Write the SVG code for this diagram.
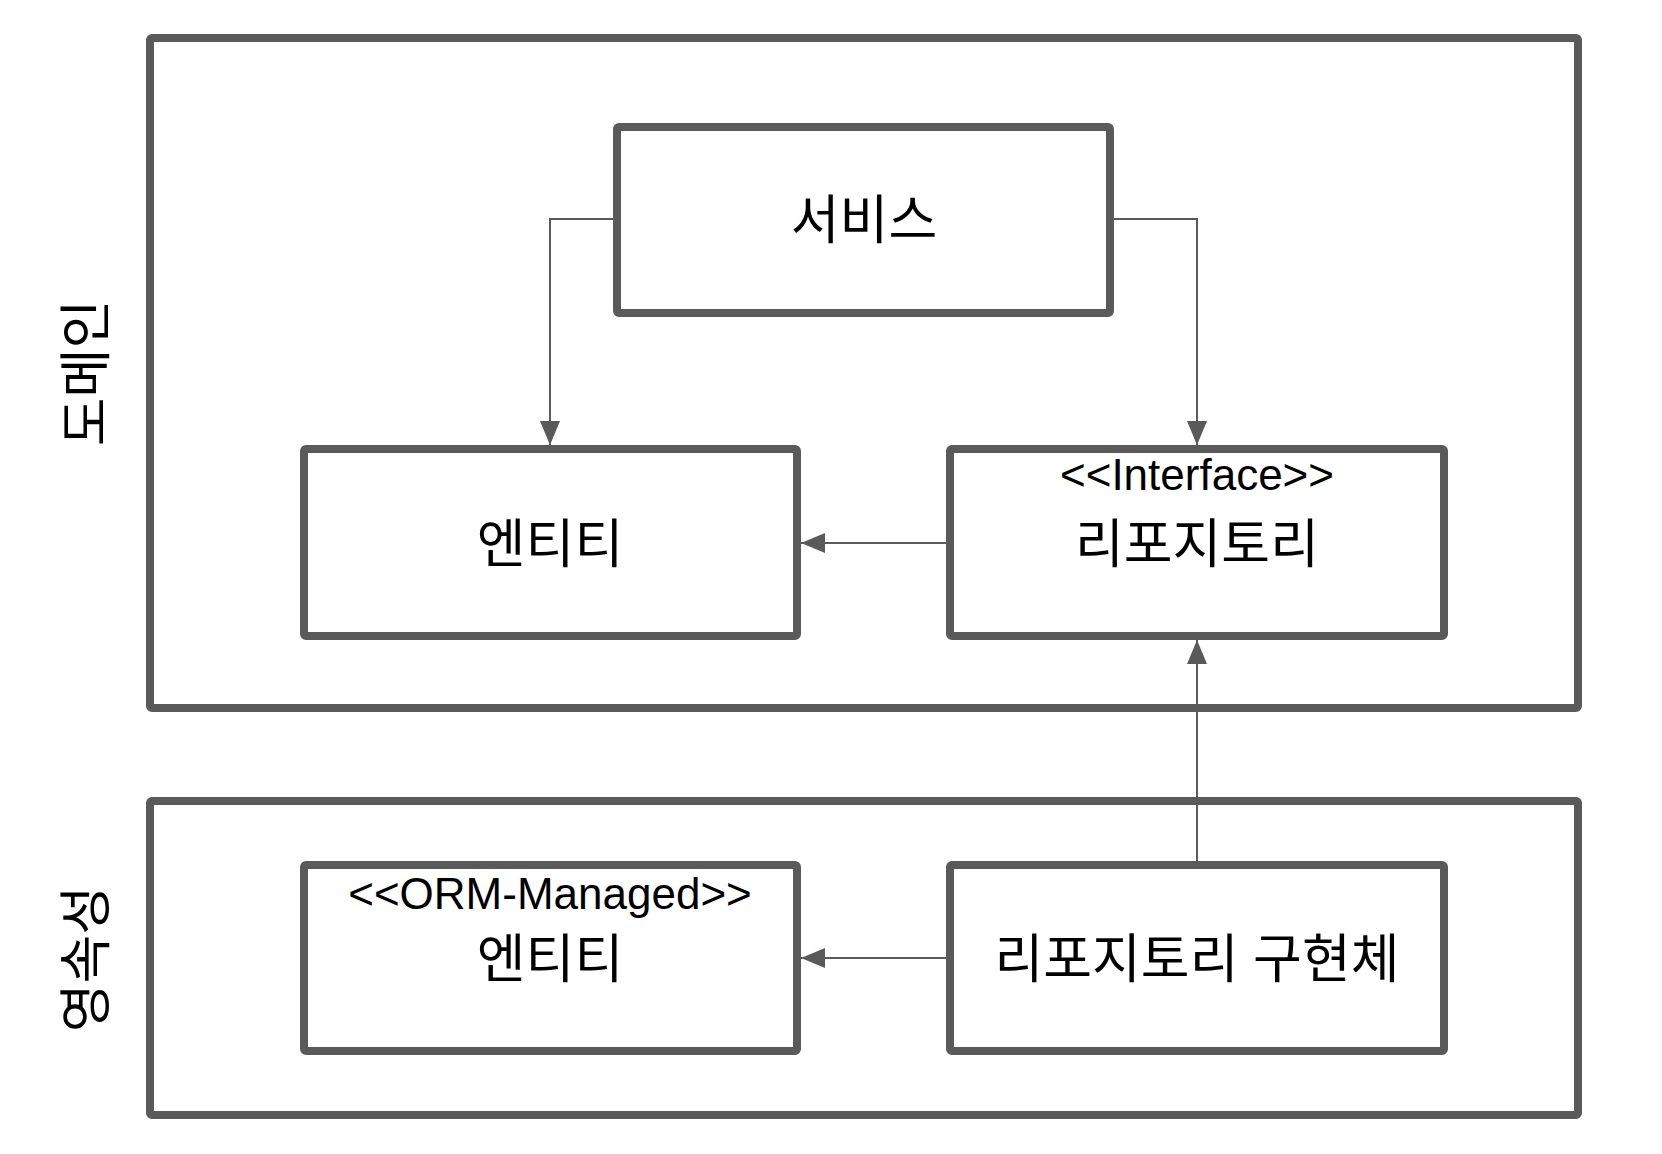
<svg xmlns="http://www.w3.org/2000/svg" width="1662" height="1154" viewBox="0 0 1662 1154">
<style>
.box{fill:#ffffff;stroke:#5a5a5a;stroke-width:8}
.outer{fill:none;stroke:#5a5a5a;stroke-width:8}
.conn{fill:none;stroke:#5a5a5a;stroke-width:2}
.ko{font-family:"Liberation Sans","Noto Sans CJK KR",sans-serif;font-size:53px;fill:#000;text-anchor:middle}
.st{font-family:"Liberation Sans","Noto Sans CJK KR",sans-serif;font-size:44px;fill:#000;text-anchor:middle}
</style>
<defs>
<marker id="arr" markerUnits="userSpaceOnUse" markerWidth="26" markerHeight="22" refX="24" refY="10" orient="auto" viewBox="0 0 26 22">
<path d="M0,0 L24,10 L0,20 z" fill="#5a5a5a"/>
</marker>
</defs>
<rect width="1662" height="1154" fill="#ffffff"/>
<g id="domain">
<rect class="outer" x="150" y="38" width="1428" height="670" rx="2"/>
<text class="ko" transform="translate(105,373) rotate(-90)">도메인</text>
</g>
<g id="persistence">
<rect class="outer" x="150" y="801" width="1428" height="314" rx="2"/>
<text class="ko" transform="translate(105,959) rotate(-90)">영속성</text>
</g>
<g id="connectors">
<path class="conn" d="M617,219 H550 V445" marker-end="url(#arr)"/>
<path class="conn" d="M1110,219 H1197 V445" marker-end="url(#arr)"/>
<path class="conn" d="M950,543 H801" marker-end="url(#arr)"/>
<path class="conn" d="M1197,865 V640" marker-end="url(#arr)"/>
<path class="conn" d="M950,958 H801" marker-end="url(#arr)"/>
</g>
<g id="service">
<rect class="box" x="617" y="127" width="493" height="186" rx="2"/>
<text class="ko" x="864" y="239">서비스</text>
</g>
<g id="entity">
<rect class="box" x="304" y="449" width="493" height="187" rx="2"/>
<text class="ko" x="550" y="563">엔티티</text>
</g>
<g id="repository">
<rect class="box" x="950" y="449" width="494" height="187" rx="2"/>
<text class="st" x="1197" y="490">&lt;&lt;Interface&gt;&gt;</text>
<text class="ko" x="1197" y="563">리포지토리</text>
</g>
<g id="orm-entity">
<rect class="box" x="304" y="865" width="493" height="186" rx="2"/>
<text class="st" x="550" y="909">&lt;&lt;ORM-Managed&gt;&gt;</text>
<text class="ko" x="550" y="978">엔티티</text>
</g>
<g id="repository-impl">
<rect class="box" x="950" y="865" width="494" height="186" rx="2"/>
<text class="ko" x="1197" y="978">리포지토리 구현체</text>
</g>
</svg>
